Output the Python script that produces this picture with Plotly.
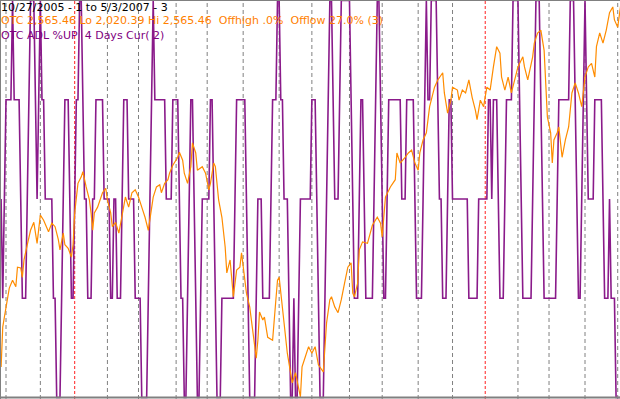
import plotly.graph_objects as go

# ---- data (trading-day index 0 = 10/27/2005) ----
purple_pct = [
    50, 25, 50, 75, 75, 75, 75, 100, 75, 75,
    75, 75, 50, 25, 25, 25, 50, 75, 100, 100,
    100, 75, 50, 75, 100, 75, 75, 50, 50, 50,
    50, 50, 25, 25, 0, 0, 0, 25, 50, 75,
    75, 75, 50, 25, 25, 50, 75, 75, 100, 100,
    75, 50, 50, 25, 25, 25, 50, 50, 75, 75,
    75, 75, 75, 50, 50, 50, 50, 25, 25, 50,
    50, 25, 25, 25, 50, 75, 75, 75, 50, 50,
    50, 50, 25, 25, 25, 25, 0, 0, 0, 0,
    25, 50, 75, 100, 75, 75, 75, 75, 75, 75,
    75, 50, 50, 50, 50, 75, 75, 75, 75, 50,
    25, 25, 0, 0, 25, 50, 75, 75, 50, 25,
    0, 0, 25, 50, 50, 50, 50, 50, 75, 75,
    50, 25, 0, 0, 0, 25, 25, 25, 25, 25,
    25, 25, 25, 50, 75, 75, 75, 75, 75, 75,
    50, 25, 0, 0, 0, 0, 25, 50, 50, 50,
    25, 25, 25, 25, 25, 50, 75, 75, 75, 100,
    100, 75, 75, 50, 50, 50, 25, 0, 0, 25,
    0, 0, 25, 50, 50, 50, 50, 50, 50, 50,
    75, 75, 75, 50, 25, 0, 0, 0, 25, 50,
    75, 100, 100, 75, 50, 50, 50, 75, 100, 100,
    100, 100, 100, 100, 75, 50, 25, 25, 25, 50,
    75, 75, 50, 25, 25, 25, 25, 25, 50, 75,
    100, 100, 75, 50, 25, 25, 50, 75, 75, 75,
    75, 75, 75, 75, 75, 50, 50, 50, 75, 75,
    75, 75, 75, 50, 25, 25, 25, 25, 50, 75,
    100, 75, 75, 100, 100, 100, 100, 75, 50, 50,
    25, 25, 25, 50, 75, 75, 50, 50, 50, 50,
    50, 50, 50, 50, 50, 50, 25, 25, 25, 25,
    25, 25, 50, 50, 50, 50, 50, 50, 75, 75,
    50, 75, 75, 75, 50, 25, 25, 25, 50, 75,
    75, 75, 75, 100, 100, 100, 100, 75, 50, 25,
    25, 25, 25, 25, 25, 50, 75, 100, 100, 100,
    75, 50, 25, 25, 25, 25, 25, 25, 25, 25,
    50, 75, 75, 75, 75, 75, 75, 75, 100, 100,
    100, 75, 50, 25, 25, 50, 75, 100, 75, 50,
    50, 50, 50, 75, 75, 75, 75, 75, 50, 25,
    25, 25, 50, 25, 25, 25, 0, 0, 0, 0,
]
purple_day = list(range(len(purple_pct)))

otc_day = [
    0, 1, 2, 4, 5, 7, 9, 10, 12, 13, 14, 16, 18, 20, 22, 24, 26, 29, 31, 33,
    35, 36, 38, 39, 41, 43, 44, 45, 47, 49, 50, 52, 54, 55, 56, 57, 59, 62, 64, 65,
    67, 68, 70, 72, 75, 76, 78, 80, 82, 84, 86, 88, 90, 91, 93, 95, 97, 98, 100, 102,
    103, 105, 108, 109, 111, 112, 114, 116, 117, 119, 120, 123, 125, 127, 128, 130, 131, 133, 135, 137,
    138, 140, 142, 144, 146, 147, 149, 150, 152, 154, 156, 157, 158, 160, 161, 163, 166, 168, 169, 170,
    172, 174, 175, 178, 180, 183, 184, 186, 188, 190, 192, 194, 197, 199, 201, 202, 204, 206, 208, 210,
    212, 214, 215, 216, 218, 219, 221, 224, 227, 230, 232, 233, 234, 235, 238, 241, 242, 244, 247, 249,
    251, 253, 255, 256, 258, 260, 262, 265, 267, 270, 271, 273, 275, 276, 279, 280, 282, 284, 286, 288,
    290, 291, 293, 295, 297, 299, 301, 303, 305, 306, 308, 310, 312, 314, 316, 319, 320, 322, 325, 326,
    328, 330, 332, 334, 336, 337, 338, 340, 341, 343, 345, 347, 349, 351, 353, 355, 357, 359, 361, 363,
    364, 366, 368, 370, 372, 374, 375, 377, 378, 379,
]
otc_close = [
    2062, 2117, 2131, 2155, 2171, 2182, 2173, 2200, 2199, 2186, 2210, 2231, 2251, 2262, 2233, 2272, 2265, 2249, 2261, 2256,
    2238, 2224, 2247, 2231, 2226, 2214, 2231, 2275, 2316, 2325, 2332, 2311, 2293, 2275, 2251, 2275, 2283, 2303, 2309, 2293,
    2275, 2256, 2262, 2247, 2283, 2297, 2283, 2303, 2307, 2297, 2283, 2269, 2251, 2265, 2297, 2311, 2314, 2303, 2316, 2321,
    2330, 2341, 2352, 2359, 2348, 2330, 2316, 2339, 2372, 2358, 2334, 2339, 2330, 2307, 2316, 2344, 2339, 2293, 2269, 2228,
    2192, 2210, 2159, 2196, 2200, 2220, 2186, 2164, 2145, 2113, 2074, 2099, 2138, 2127, 2131, 2103, 2099, 2155, 2182, 2186,
    2145, 2109, 2081, 2040, 2054, 2020.39, 2062, 2076, 2090, 2081, 2090, 2065, 2055, 2123, 2155, 2159, 2145, 2137, 2155, 2178,
    2200, 2206, 2164, 2159, 2178, 2224, 2235, 2233, 2258, 2269, 2261, 2242, 2269, 2297, 2311, 2321, 2358, 2344, 2352, 2358,
    2362, 2344, 2334, 2358, 2376, 2386, 2422, 2449, 2459, 2469, 2441, 2413, 2431, 2449, 2445, 2431, 2445, 2441, 2459, 2435,
    2417, 2404, 2431, 2422, 2449, 2445, 2477, 2505, 2496, 2463, 2445, 2463, 2441, 2459, 2477, 2491, 2477, 2459, 2491, 2510,
    2524, 2528, 2500, 2408, 2386, 2344, 2376, 2386, 2394, 2352, 2376, 2394, 2441, 2455, 2441, 2422, 2463, 2477, 2482, 2463,
    2505, 2524, 2510, 2528, 2552, 2560, 2542, 2532, 2550, 2565.46,
]

# first trading day of each month (index); January starts drawn in red
month_start_day = [3, 24, 45, 65, 84, 107, 126, 148, 170, 190,
                   213, 233, 255, 276, 296, 316, 335, 357, 377]
month_label = ["Nov 05", "Dec 05", "Jan 06", "Feb 06", "Mar 06", "Apr 06",
               "May 06", "Jun 06", "Jul 06", "Aug 06", "Sep 06", "Oct 06",
               "Nov 06", "Dec 06", "Jan 07", "Feb 07", "Mar 07", "Apr 07", "May 07"]

header_lines = [
    "10/27/2005 - 1 to 5/3/2007 - 3",
    "OTC 2,565.46 Lo 2,020.39 Hi 2,565.46  Offhigh .0%  Offlow 27.0% (3)",
    "OTC ADL %UP  4 Days Cur( 2)",
]
header_colors = ["#000000", "#FF8000", "#800080"]

W, H = 620, 399

fig = go.Figure()
fig.add_trace(go.Scatter(
    x=purple_day, y=purple_pct, mode="lines",
    line=dict(color="#8A1A8A", width=1.6), yaxis="y", hoverinfo="skip",
))
fig.add_trace(go.Scatter(
    x=otc_day, y=otc_close, mode="lines",
    line=dict(color="#FF8C00", width=1.2), yaxis="y2", hoverinfo="skip",
))

shapes = []
for d, lab in zip(month_start_day, month_label):
    red = lab.startswith("Jan")
    shapes.append(dict(
        type="line", xref="x", yref="paper", x0=d, x1=d, y0=0, y1=1,
        line=dict(color="#FF2020" if red else "#808080", width=1,
                  dash="3px,2px" if red else "4px,3px"),
        layer="below",
    ))
# frame
shapes += [
    dict(type="line", xref="paper", yref="paper", x0=0, x1=1, y0=1, y1=1,
         line=dict(color="#808080", width=2)),
    dict(type="line", xref="paper", yref="paper", x0=0, x1=0, y0=0, y1=1,
         line=dict(color="#808080", width=2)),
    dict(type="line", xref="paper", yref="paper", x0=0, x1=1,
         y0=1.5 / H, y1=1.5 / H, line=dict(color="#808080", width=2)),
]

annotations = []
for i, (txt, col) in enumerate(zip(header_lines, header_colors)):
    annotations.append(dict(
        xref="paper", yref="paper", x=0, y=1 - (7 + 14 * i) / H,
        xanchor="left", yanchor="middle", showarrow=False, text=txt,
        font=dict(family="DejaVu Sans", size=11, color=col),
        borderpad=0,
    ))

fig.update_layout(
    width=W, height=H, margin=dict(l=0, r=0, t=0, b=0),
    paper_bgcolor="white", plot_bgcolor="white", showlegend=False,
    xaxis=dict(range=[-0.6725, 378.40], visible=False),
    yaxis=dict(range=[-0.378, 100.126], visible=False),
    yaxis2=dict(range=[2017.62, 2569.61], visible=False, overlaying="y"),
    shapes=shapes, annotations=annotations,
)

fig.write_html(
    "out.html",
    config={"displayModeBar": False},
    post_script="document.body.style.margin='0px';document.body.style.overflow='hidden';",
)
